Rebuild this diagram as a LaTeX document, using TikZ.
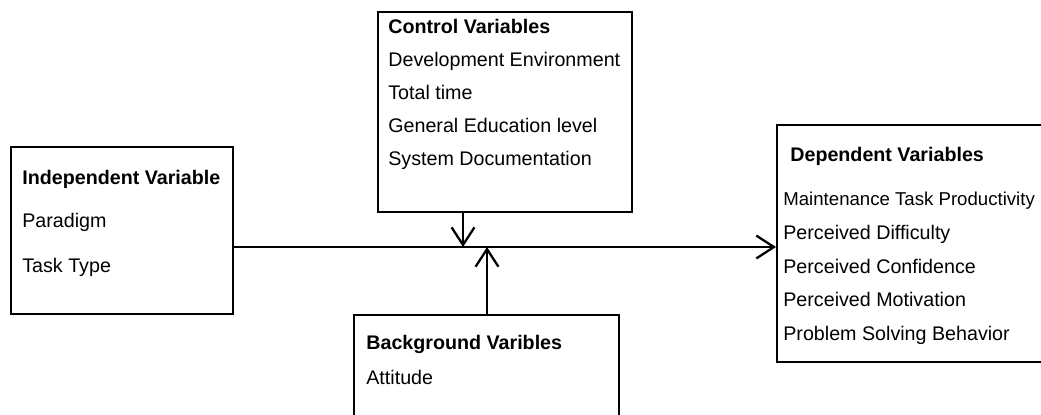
\documentclass[tikz,border=0pt]{standalone}
\usepackage{fontspec}
\setmainfont{Liberation Sans}
\usetikzlibrary{arrows.meta}

\tikzset{
    varbox/.style={draw, line width=1.1pt, rectangle, inner sep=0pt, anchor=north west},
    item/.style={anchor=base west, inner sep=0pt, font=\fontsize{11.2}{13}\selectfont},
    head/.style={item, font=\fontsize{11.2}{13}\selectfont\bfseries},
    link/.style={line width=1.3pt, -{Straight Barb[length=10pt, width=13pt, line width=1.3pt]}}
}

\begin{document}
\begin{tikzpicture}[x=0.02cm, y=-0.02cm]
\clip (0, 0) rectangle (1041, 414);
\fill[white] (0, 0) rectangle (1041, 414);

    % boxes
    \node[varbox, minimum width=5.08cm, minimum height=4cm] (ctrl) at (377, 11) {};
    \node[varbox, minimum width=4.44cm, minimum height=3.34cm] (indep) at (10, 146) {};
    \node[varbox, minimum width=5.9cm, minimum height=4.74cm] (dep) at (776, 124) {};
    \node[varbox, minimum width=5.3cm, minimum height=2.6cm] (bg) at (353, 314) {};

    % control variables
    \node[head] (c0) at (388, 33) {Control Variables};
    \node[item] (c1) at (388, 66) {Development Environment};
    \node[item] (c2) at (388, 99) {Total time};
    \node[item] (c3) at (388, 132) {General Education level};
    \node[item] (c4) at (388, 165) {System Documentation};

    % independent variable
    \node[head] (i0) at (22, 184) {Independent Variable};
    \node[item] (i1) at (22, 227) {Paradigm};
    \node[item] (i2) at (22, 272) {Task Type};

    % dependent variables
    \node[head] (d0) at (790, 161) {Dependent Variables};
    \node[item, font=\fontsize{10.6}{13}\selectfont] (d1) at (783, 205) {Maintenance Task Productivity};
    \node[item] (d2) at (783, 239) {Perceived Difficulty};
    \node[item] (d3) at (783, 273) {Perceived Confidence};
    \node[item] (d4) at (783, 306) {Perceived Motivation};
    \node[item] (d5) at (783, 340) {Problem Solving Behavior};

    % background variables
    \node[head] (b0) at (366, 349) {Background Varibles};
    \node[item] (b1) at (366, 384) {Attitude};

    % connectors
    \coordinate (hub) at (475, 247);
    \coordinate (cin) at (463, 247);
    \coordinate (bin) at (487, 247);
    \draw[link] (indep.east |- hub) -- (dep.west |- hub);
    \draw[link] (cin |- ctrl.south) -- (cin);
    \draw[link] (bin |- bg.north) -- (bin);
\end{tikzpicture}
\end{document}
